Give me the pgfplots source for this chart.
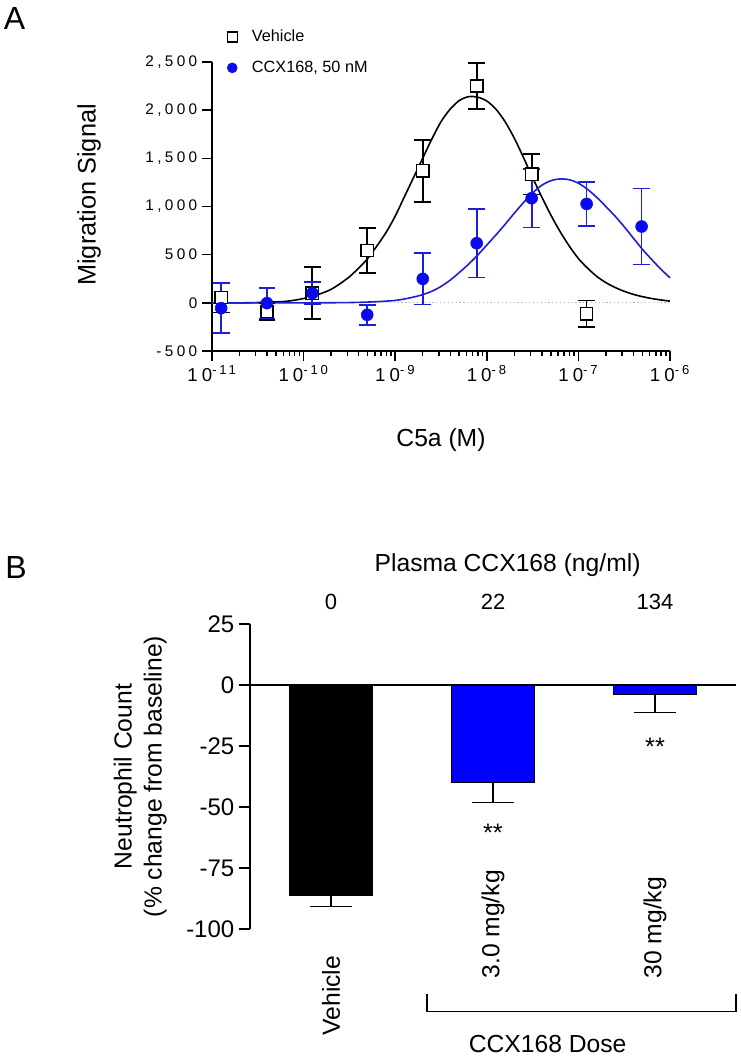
\documentclass[border=0pt]{standalone}
\usepackage{fontspec}
\setmainfont{Liberation Sans}
\newfontfamily\spaced[LetterSpace=22]{Liberation Sans}
\usepackage{pgfplots}
\pgfplotsset{compat=1.18}
\definecolor{dotblue}{RGB}{10,10,240}
\definecolor{lineblue}{RGB}{30,30,210}
\definecolor{barblue}{RGB}{0,0,255}

\begin{document}
\begin{tikzpicture}
\path[use as bounding box] (0pt,0pt) rectangle (555.75pt,-792.75pt);
\node[font=\fontsize{24}{24}\selectfont] at (11pt,-14pt) {A};
\node[font=\fontsize{24}{24}\selectfont] at (12pt,-425.25pt) {B};

% ---------------- Panel A ----------------
\begin{axis}[
  at={(159pt,-263.25pt)}, anchor=south west,
  scale only axis, width=343.5pt, height=216.75pt,
  xmode=log, xmin=1e-11, xmax=1e-6, ymin=-500, ymax=2500,
  axis x line=bottom, axis y line=left,
  axis line style={-, line width=1.1pt, black},
  tick align=outside,
  major tick length=7.5pt, minor tick length=3.75pt,
  every tick/.style={black, line width=1.1pt},
  xtick={1e-11,1e-10,1e-9,1e-8,1e-7,1e-6},
  minor xtick={2e-11,3e-11,4e-11,5e-11,6e-11,7e-11,8e-11,9e-11,
               2e-10,3e-10,4e-10,5e-10,6e-10,7e-10,8e-10,9e-10,
               2e-9,3e-9,4e-9,5e-9,6e-9,7e-9,8e-9,9e-9,
               2e-8,3e-8,4e-8,5e-8,6e-8,7e-8,8e-8,9e-8,
               2e-7,3e-7,4e-7,5e-7,6e-7,7e-7,8e-7,9e-7},
  xticklabels={{10\textsuperscript{-11}},{10\textsuperscript{-10}},{10\textsuperscript{-9}},{10\textsuperscript{-8}},{10\textsuperscript{-7}},{10\textsuperscript{-6}}},
  xticklabel style={font=\spaced\fontsize{14}{14}\selectfont},
  ytick={-500,0,500,1000,1500,2000,2500},
  yticklabels={-500,0,500,{1,000},{1,500},{2,000},{2,500}},
  yticklabel style={font=\spaced\fontsize{11.5}{12}\selectfont},
  xlabel={C5a (M)}, ylabel={Migration Signal},
  every axis x label/.style={at={(axis description cs:0.5,-0.308)}, anchor=center, font=\fontsize{18.5}{18.5}\selectfont},
  every axis y label/.style={at={(axis description cs:-0.2686,0.54)}, rotate=90, anchor=center, font=\fontsize{19}{19}\selectfont},
  legend style={at={(axis description cs:0.024,1.13)}, anchor=north west, draw=none, fill=none,
                font=\fontsize{12.2}{14}\selectfont, row sep=9pt, column sep=9pt},
  legend cell align=left,
  clip=false,
]
\addlegendimage{only marks, mark=square*, mark size=3.75pt, mark options={fill=white, draw=black, line width=1pt}}
\addlegendentry{Vehicle}
\addlegendimage{only marks, mark=*, mark size=3.75pt, mark options={fill=dotblue, draw=dotblue}}
\addlegendentry{CCX168, 50 nM}

\addplot[gray!60, dotted, line width=0.9pt, forget plot] coordinates {(1e-11,0) (1e-6,0)};

% fitted curve, vehicle
\addplot[black, line width=1.2pt, smooth, forget plot] table {
x y
1e-11 0
2.5119e-11 1
6.3096e-11 15
1e-10 45
1.2589e-10 70
1.5849e-10 100
1.9953e-10 140
2.5119e-10 200
3.1623e-10 270
3.9811e-10 360
5.0119e-10 460
6.3096e-10 590
7.9433e-10 730
1e-9 900
1.2589e-9 1100
1.5849e-9 1300
1.9953e-9 1500
2.5119e-9 1700
3.1623e-9 1880
3.9811e-9 2010
5.0119e-9 2100
6.3096e-9 2140
7.9433e-9 2135
1e-8 2095
1.2589e-8 2010
1.5849e-8 1880
1.9953e-8 1710
2.5119e-8 1510
3.1623e-8 1300
3.9811e-8 1100
5.0119e-8 910
6.3096e-8 740
7.9433e-8 590
1e-7 460
1.2589e-7 360
1.5849e-7 275
1.9953e-7 210
2.5119e-7 160
3.1623e-7 120
3.9811e-7 88
5.0119e-7 64
6.3096e-7 45
7.9433e-7 30
1e-6 18
};

% fitted curve, CCX168
\addplot[lineblue, line width=1.2pt, smooth, forget plot] table {
x y
1e-11 0
1e-10 0
3.1623e-10 3
6.3096e-10 12
1e-9 25
1.2589e-9 40
1.5849e-9 60
1.9953e-9 85
2.5119e-9 120
3.1623e-9 170
3.9811e-9 235
5.0119e-9 315
6.3096e-9 400
7.9433e-9 495
1e-8 600
1.2589e-8 705
1.5849e-8 815
1.9953e-8 930
2.5119e-8 1040
3.1623e-8 1140
3.9811e-8 1220
5.0119e-8 1268
6.3096e-8 1286
7.9433e-8 1278
1e-7 1242
1.2589e-7 1178
1.5849e-7 1095
1.9953e-7 1000
2.5119e-7 900
3.1623e-7 790
3.9811e-7 672
5.0119e-7 555
6.3096e-7 450
7.9433e-7 350
1e-6 260
};

% vehicle data
\addplot[only marks, mark=square*, mark size=4.6pt, mark options={fill=white, draw=black, line width=1.1pt}, forget plot,
  error bars/.cd, y dir=both, y explicit,
  error bar style={black, line width=1.3pt},
  error mark options={rotate=90, mark size=6.25pt, black, line width=1.3pt}]
table[x=x, y=y, y error=e] {
x y e
1.26e-11 55 155
3.98e-11 -90 85
1.245e-10 100 270
4.95e-10 543 233
2.0e-9 1370 320
7.76e-9 2250 240
3.09e-8 1335 210
1.23e-7 -114 138
};

% CCX168 data
\addplot[only marks, mark=*, mark size=4.5pt, mark options={fill=dotblue, draw=dotblue}, forget plot,
  error bars/.cd, y dir=both, y explicit,
  error bar style={lineblue, line width=1.3pt},
  error mark options={rotate=90, mark size=6.25pt, lineblue, line width=1.3pt}]
table[x=x, y=y, y error=e] {
x y e
1.26e-11 -55 260
3.98e-11 -3 160
1.245e-10 100 115
4.95e-10 -124 105
2.0e-9 249 265
7.76e-9 619 355
3.09e-8 1086 305
1.23e-7 1027 228
4.9e-7 792 395
};
\end{axis}

% ---------------- Panel B ----------------
\begin{axis}[
  at={(187.5pt,-696.75pt)}, anchor=south west,
  scale only axis, width=364.5pt, height=228.75pt,
  xmin=-0.5, xmax=2.5, ymin=-100, ymax=25,
  axis y line=left, axis x line=bottom,
  axis line style={-, line width=1.1pt, black},
  x axis line style={draw=none},
  tick align=outside, major tick length=8.25pt,
  every tick/.style={black, line width=1.1pt},
  major x tick style={draw=none},
  ytick={-100,-75,-50,-25,0,25},
  yticklabels={-100,-75,-50,-25,0,25},
  yticklabel style={font=\fontsize{18}{18}\selectfont},
  xtick={0,1,2},
  xticklabels={{\hspace*{-42.75pt}Vehicle},{3.0 mg/kg},{30 mg/kg}},
  xticklabel style={rotate=90, anchor=west, inner sep=0pt, font=\fontsize{18.5}{18.5}\selectfont},
  xticklabel shift=29pt,
  ylabel={Neutrophil Count\\(\% change from baseline)},
  every axis y label/.style={at={(axis description cs:-0.226,0.5)}, rotate=90, anchor=center, align=center, font=\fontsize{18.5}{22.5}\selectfont},
  clip=false,
]
\addplot[ybar, bar width=0.51, bar shift=0pt, fill=black, draw=black, line width=1pt,
  error bars/.cd, y dir=minus, y explicit,
  error bar style={black, line width=1.1pt},
  error mark options={rotate=90, mark size=15.4pt, black, line width=1.1pt}]
  coordinates {(0,-86) +- (0,4.7)};
\addplot[ybar, bar width=0.51, bar shift=0pt, fill=barblue, draw=black, line width=1pt,
  error bars/.cd, y dir=minus, y explicit,
  error bar style={black, line width=1.1pt},
  error mark options={rotate=90, mark size=15.4pt, black, line width=1.1pt}]
  coordinates {(1,-40) +- (0,8.2) (2,-3.8) +- (0,7.5)};
\addplot[black, line width=1.1pt, forget plot] coordinates {(-0.5,0) (2.5,0)};

\node[font=\fontsize{18.5}{18.5}\selectfont] at (axis cs:1.09,49.2) {Plasma CCX168 (ng/ml)};
\node[font=\fontsize{16.5}{16.5}\selectfont] at (axis cs:0,34) {0};
\node[font=\fontsize{16.5}{16.5}\selectfont] at (axis cs:1,34) {22};
\node[font=\fontsize{16.5}{16.5}\selectfont] at (axis cs:2,34) {134};
\node[font=\fontsize{19}{19}\selectfont] at (axis cs:1,-60.5) {**};
\node[font=\fontsize{19}{19}\selectfont] at (axis cs:2,-25.5) {**};
\draw[line width=1.1pt] (axis cs:0.594,-126.6) -- (axis cs:0.594,-133.9) -- (axis cs:2.5,-133.9) -- (axis cs:2.5,-126.6);
\node[font=\fontsize{18.5}{18.5}\selectfont] at (axis cs:1.337,-147.1) {CCX168 Dose};
\end{axis}
\end{tikzpicture}
\end{document}
